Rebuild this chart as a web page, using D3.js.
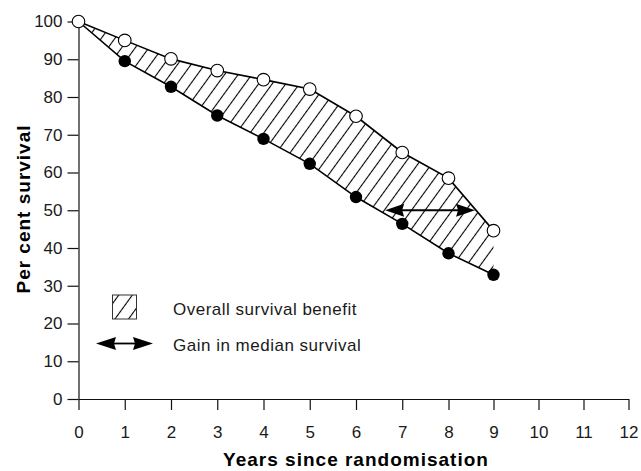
<!DOCTYPE html>
<head>
  <meta charset="utf-8">
  <script src="https://cdn.jsdelivr.net/npm/d3@7"></script>
  <style>
  body,html {background:white; margin:0; font-family:"Liberation Sans", Arial, sans-serif;}
  .tick text {font-size:17px; fill:#1a1a1a;}
  .axis path, .axis line {stroke:#111; stroke-width:1.2;}
  .title {font-weight:bold; font-size:19px; letter-spacing:1px; fill:#000;}
  .legend text {font-size:17px; letter-spacing:0.5px; fill:#1a1a1a;}
  </style>
</head>
<body>
<svg width="641" height="471"></svg>
<script>
  // values
  const years = [0, 1, 2, 3, 4, 5, 6, 7, 8, 9];
  const survivalUpper = [100, 95.0, 90.1, 87.0, 84.6, 82.1, 74.9, 65.3, 58.5, 44.6];  // open circles
  const survivalLower = [100, 89.5, 82.7, 75.1, 68.9, 62.3, 53.5, 46.4, 38.6, 32.9];  // filled circles
  const xTicks = [0, 1, 2, 3, 4, 5, 6, 7, 8, 9, 10, 11, 12];
  const yTicks = [0, 10, 20, 30, 40, 50, 60, 70, 80, 90, 100];
  const medianLevel = 50;
  const medianYears = [6.63, 8.59];
  const legendLabels = ["Overall survival benefit", "Gain in median survival"];

  const svg = d3.select("svg");

  // the printed axis is a little uneven, so the scale is piecewise
  const x = d3.scaleLinear().domain([0, 8, 12]).range([78.5, 448.5, 628.5]);
  const y = d3.scaleLinear().domain([0, 100]).range([399, 21.5]);

  const defs = svg.append("defs");
  const pat = defs.append("pattern")
    .attr("id", "hatch")
    .attr("patternUnits", "userSpaceOnUse")
    .attr("width", 11).attr("height", 11)
    .attr("patternTransform", "rotate(36)");
  pat.append("line")
    .attr("x1", 5.5).attr("y1", 0).attr("x2", 5.5).attr("y2", 11)
    .attr("stroke", "#000").attr("stroke-width", 1.1);

  const upper = years.map((t, i) => [t, survivalUpper[i]]);
  const lower = years.map((t, i) => [t, survivalLower[i]]);

  // hatched band
  const area = d3.area()
    .x(d => x(d[0]))
    .y0(d => y(d[2]))
    .y1(d => y(d[1]));
  svg.append("path")
    .datum(years.map((t, i) => [t, survivalUpper[i], survivalLower[i]]))
    .attr("d", area)
    .attr("fill", "url(#hatch)");

  // axes
  svg.append("g")
    .attr("class", "axis")
    .attr("transform", "translate(0," + y(0) + ")")
    .call(d3.axisBottom(x).tickValues(xTicks).tickFormat(d3.format("d")).tickSize(11).tickSizeOuter(0).tickPadding(16));

  svg.append("g")
    .attr("class", "axis")
    .attr("transform", "translate(" + x(0) + ",0)")
    .call(d3.axisLeft(y).tickValues(yTicks).tickSize(11).tickSizeOuter(0).tickPadding(5));

  svg.selectAll(".axis").attr("font-family", null).attr("font-size", null);

  // lines
  const line = d3.line().x(d => x(d[0])).y(d => y(d[1]));
  [upper, lower].forEach(s => {
    svg.append("path")
      .datum(s)
      .attr("d", line)
      .attr("fill", "none")
      .attr("stroke", "#000")
      .attr("stroke-width", 1.6);
  });

  // double headed arrow
  function arrow(g, x1, x2, yy, head, half) {
    g.append("line")
      .attr("x1", x1 + head - 3).attr("x2", x2 - head + 3)
      .attr("y1", yy).attr("y2", yy)
      .attr("stroke", "#000").attr("stroke-width", 1.8);
    g.append("path")
      .attr("d", `M${x1},${yy} L${x1 + head},${yy - half} L${x1 + head - 2},${yy} L${x1 + head},${yy + half} Z`)
      .attr("fill", "#000");
    g.append("path")
      .attr("d", `M${x2},${yy} L${x2 - head},${yy - half} L${x2 - head + 2},${yy} L${x2 - head},${yy + half} Z`)
      .attr("fill", "#000");
  }
  arrow(svg.append("g"), x(medianYears[0]), x(medianYears[1]), y(medianLevel), 19, 6.5);

  // dots
  svg.selectAll(".filled")
    .data(lower.slice(1))
    .enter()
    .append("circle")
    .attr("class", "filled")
    .attr("cx", d => x(d[0]))
    .attr("cy", d => y(d[1]))
    .attr("r", 6.2)
    .attr("fill", "#000");

  svg.selectAll(".open")
    .data(upper)
    .enter()
    .append("circle")
    .attr("class", "open")
    .attr("cx", d => x(d[0]))
    .attr("cy", d => y(d[1]))
    .attr("r", 6.3)
    .attr("fill", "#fff")
    .attr("stroke", "#000")
    .attr("stroke-width", 1.1);

  // axis titles
  svg.append("text")
    .attr("class", "title")
    .attr("x", 356)
    .attr("y", 466)
    .attr("text-anchor", "middle")
    .text("Years since randomisation");

  svg.append("text")
    .attr("class", "title")
    .attr("transform", "translate(30,209) rotate(-90)")
    .attr("text-anchor", "middle")
    .text("Per cent survival");

  // legend
  const legend = svg.append("g").attr("class", "legend");
  legend.append("rect")
    .attr("x", 112.5).attr("y", 295)
    .attr("width", 24).attr("height", 24)
    .attr("fill", "url(#hatch)")
    .attr("stroke", "#333")
    .attr("stroke-width", 1);
  arrow(legend, 96, 153, 343.5, 20, 6.5);
  legend.selectAll("text")
    .data(legendLabels)
    .enter()
    .append("text")
    .attr("x", 173)
    .attr("y", (d, i) => 315 + i * 35.5)
    .text(d => d);
</script>
</body>
